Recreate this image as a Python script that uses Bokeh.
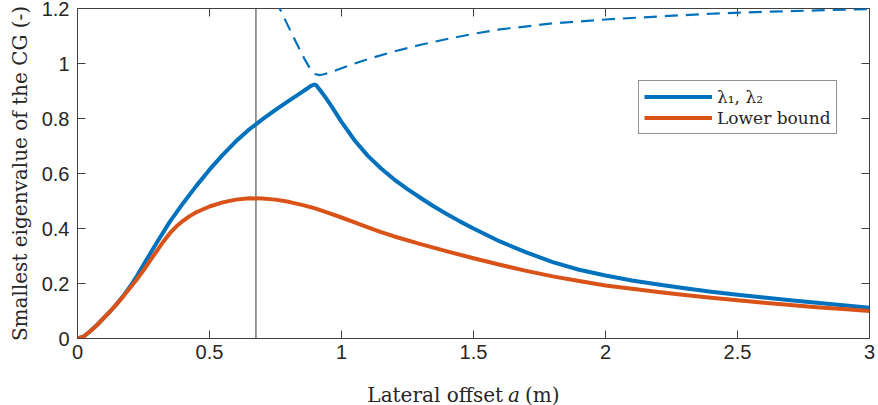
from bokeh.plotting import figure
from bokeh.models import LinearAxis, Label, Legend, LegendItem, Span, FixedTicker
from bokeh.embed import file_html
from bokeh.resources import INLINE

# ---- data ----
a_lam = [0, 0.025, 0.05, 0.075, 0.1, 0.125, 0.15, 0.175, 0.2, 0.225, 0.25, 0.3, 0.35,
         0.4, 0.45, 0.5, 0.55, 0.6, 0.65, 0.7, 0.75, 0.8, 0.85, 0.87, 0.88, 0.89, 0.895,
         0.9, 0.905, 0.91, 0.92, 0.94, 0.96, 0.98, 1.0, 1.05, 1.1, 1.15, 1.2, 1.25, 1.3,
         1.35, 1.4, 1.45, 1.5, 1.6, 1.7, 1.8, 1.9, 2.0, 2.1, 2.2, 2.3, 2.4, 2.5, 2.6,
         2.7, 2.8, 2.9, 3.0]
lam_min = [0, 0.008, 0.028, 0.05, 0.075, 0.1, 0.127, 0.157, 0.19, 0.227, 0.268, 0.348,
           0.425, 0.492, 0.555, 0.614, 0.668, 0.717, 0.76, 0.797, 0.831, 0.864, 0.896,
           0.909, 0.916, 0.921, 0.923, 0.923, 0.92, 0.914, 0.902, 0.876, 0.848, 0.818,
           0.788, 0.72, 0.664, 0.618, 0.578, 0.543, 0.511, 0.48, 0.452, 0.425, 0.4,
           0.353, 0.313, 0.278, 0.25, 0.229, 0.211, 0.196, 0.183, 0.17, 0.159, 0.149,
           0.139, 0.13, 0.121, 0.112]

a_up = [0.75, 0.766, 0.78, 0.806, 0.825, 0.844, 0.86, 0.878, 0.89, 0.9, 0.915, 0.93,
        0.96, 1.0, 1.05, 1.1, 1.2, 1.3, 1.4, 1.5, 1.6, 1.8, 2.0, 2.2, 2.4, 2.6, 2.8, 3.0]
lam_up = [1.232, 1.2, 1.172, 1.12, 1.083, 1.047, 1.016, 0.987, 0.971, 0.962, 0.958,
          0.96, 0.968, 0.983, 1.0, 1.016, 1.044, 1.068, 1.089, 1.108, 1.124, 1.146,
          1.16, 1.171, 1.181, 1.188, 1.193, 1.198]

a_lb = [0, 0.025, 0.05, 0.075, 0.1, 0.125, 0.15, 0.175, 0.2, 0.225, 0.25, 0.275, 0.3,
        0.325, 0.35, 0.375, 0.4, 0.425, 0.45, 0.5, 0.55, 0.6, 0.65, 0.7, 0.75, 0.8,
        0.85, 0.9, 0.95, 1.0, 1.05, 1.1, 1.15, 1.2, 1.3, 1.4, 1.5, 1.6, 1.7, 1.8, 1.9,
        2.0, 2.1, 2.2, 2.3, 2.4, 2.5, 2.6, 2.7, 2.8, 2.9, 3.0]
lower = [0, 0.008, 0.028, 0.05, 0.075, 0.1, 0.127, 0.155, 0.185, 0.215, 0.248, 0.283,
         0.318, 0.352, 0.383, 0.408, 0.428, 0.445, 0.459, 0.48, 0.495, 0.505, 0.51,
         0.509, 0.505, 0.497, 0.486, 0.473, 0.457, 0.44, 0.422, 0.404, 0.387, 0.371,
         0.343, 0.317, 0.292, 0.268, 0.246, 0.226, 0.209, 0.193, 0.181, 0.169, 0.158,
         0.148, 0.139, 0.13, 0.122, 0.114, 0.107, 0.1]

vline_x = 0.676

x_ticks = [0, 0.5, 1, 1.5, 2, 2.5, 3]
x_tick_labels = ["0", "0.5", "1", "1.5", "2", "2.5", "3"]
y_ticks = [0, 0.2, 0.4, 0.6, 0.8, 1.0, 1.2]
y_tick_labels = ["0", "0.2", "0.4", "0.6", "0.8", "1", "1.2"]

x_label_parts = ["Lateral offset", "a", "(m)"]
y_label = "Smallest eigenvalue of the CG (-)"
legend_labels = ["\u03bb\u2081, \u03bb\u2082", "Lower bound"]

BLUE = "#0072BD"
ORANGE = "#D95319"
AX = "#404040"
TXT = "#262626"
SERIF = "DejaVu Serif"
SANS = "Liberation Sans"

X0, X1 = 0, 3
Y0, Y1 = 0, 1.2

# The x-axis title pieces live in the (off-screen) top panel so that they are not
# clipped by the frame; the canvas is shifted up so the frame top sits at y=8.
TOP_BORDER = 110
p = figure(width=878, height=TOP_BORDER + 330 + 67, x_range=(X0, X1), y_range=(Y0, Y1),
           output_backend="svg", toolbar_location=None,
           min_border_left=77, min_border_right=9, min_border_top=TOP_BORDER,
           min_border_bottom=67, x_axis_location=None, y_axis_location=None)
p.styles = {"position": "absolute", "top": f"{8 - TOP_BORDER}px", "left": "0px"}
p.grid.visible = False
p.outline_line_color = AX
p.outline_line_width = 1
p.background_fill_color = "white"
p.border_fill_color = "white"


def make_axis(ticks, labels, standoff):
    ax = LinearAxis(ticker=FixedTicker(ticks=ticks),
                    major_label_overrides={t: l for t, l in zip(ticks, labels)})
    ax.axis_line_color = AX
    ax.major_tick_line_color = AX
    ax.major_tick_in = 8
    ax.major_tick_out = 0
    ax.minor_tick_line_color = None
    ax.major_label_standoff = standoff
    ax.major_label_text_font = SANS
    ax.major_label_text_font_size = "20px"
    ax.major_label_text_color = TXT
    return ax


xax = make_axis(x_ticks, x_tick_labels, 6)
yax = make_axis(y_ticks, y_tick_labels, 8)
yax.axis_label = y_label
yax.axis_label_text_font = SERIF
yax.axis_label_text_font_size = "20px"
yax.axis_label_text_font_style = "normal"
yax.axis_label_text_color = TXT
yax.axis_label_standoff = 7
p.add_layout(xax, "below")
p.add_layout(yax, "left")

# box ticks on top and right edges (half of each marker is clipped by the frame)
p.scatter(x_ticks, [Y1] * len(x_ticks), marker="dash", size=16, angle=1.5707963,
          line_color=AX, line_width=1)
p.scatter([X1] * len(y_ticks), y_ticks, marker="dash", size=16,
          line_color=AX, line_width=1)

p.add_layout(Span(location=vline_x, dimension="height", line_color="#333333",
                  line_width=1, level="underlay"))

p.line(a_up, lam_up, line_color=BLUE, line_width=2.2, line_dash="13 8")
r_blue = p.line(a_lam, lam_min, line_color=BLUE, line_width=4, line_join="round")
r_or = p.line(a_lb, lower, line_color=ORANGE, line_width=4, line_join="round")

legend = Legend(items=[LegendItem(label=legend_labels[0], renderers=[r_blue]),
                       LegendItem(label=legend_labels[1], renderers=[r_or])],
                location=(561, 204), margin=0, padding=5, spacing=0,
                glyph_width=68, glyph_height=21, label_height=21, label_standoff=5,
                label_text_font=SERIF, label_text_font_size="17px",
                label_text_color=TXT, border_line_color=TXT, border_line_width=1,
                background_fill_alpha=1.0)
p.add_layout(legend, "center")

# x axis title as real text (data-positioned, held by the top side panel)
LBL_Y = -0.207
p.add_layout(Label(x=1.612, y=LBL_Y, text=x_label_parts[0], text_align="right",
                   text_baseline="alphabetic", text_font=SERIF, text_font_size="20px",
                   text_color=TXT), "above")
p.add_layout(Label(x=1.653, y=LBL_Y, text=x_label_parts[1], text_align="center",
                   text_baseline="alphabetic", text_font=SERIF, text_font_size="20px",
                   text_font_style="italic", text_color=TXT), "above")
p.add_layout(Label(x=1.695, y=LBL_Y, text=x_label_parts[2], text_align="left",
                   text_baseline="alphabetic", text_font=SERIF, text_font_size="20px",
                   text_color=TXT), "above")

open("out.html", "w").write(file_html(p, INLINE))
